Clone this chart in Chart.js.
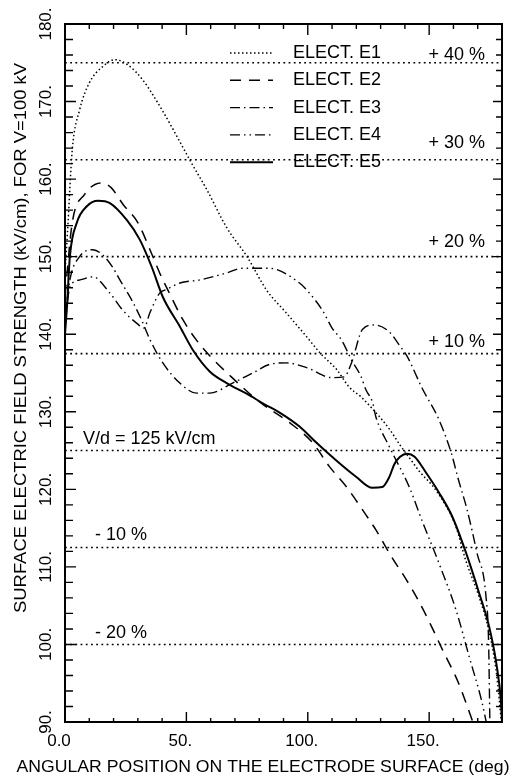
<!DOCTYPE html>
<html>
<head>
<meta charset="utf-8">
<script src="https://cdn.jsdelivr.net/npm/chart.js@4.4.1/dist/chart.umd.min.js"></script>
<style>
  html, body { margin: 0; padding: 0; background: #fff; }
</style>
</head>
<body>
<canvas id="chart" width="513" height="782"></canvas>
<script>
// angular position (deg) and field strength (kV/cm)
const xE1 = [0, 1, 3, 6, 10, 15.5, 20.5, 26, 32, 40, 47, 51.5, 58.5, 66.5, 75, 83, 91, 100, 105, 112, 117, 122, 126, 130, 134, 138, 142, 146, 153, 161, 165, 170.5, 174.5, 177.5, 179, 180];
const yE1 = [148, 153, 163.8, 168.9, 172.4, 174.5, 175.4, 174.7, 172.8, 168.9, 165, 162.4, 158.6, 153.8, 150, 145.7, 142.8, 139.5, 137.6, 135.4, 133.2, 131.9, 130.6, 129.2, 127.6, 125.7, 124, 122.3, 119.8, 115.2, 110.9, 106.2, 101.9, 96.8, 92.5, 89];

const xE2 = [0, 3, 8, 15, 19, 24, 30, 35, 39, 43, 48.5, 54, 60, 68.5, 80, 92.5, 102, 109, 116, 122, 128, 134.5, 140.5, 146, 151, 155.5, 162, 168];
const yE2 = [145, 154.4, 158, 159.5, 158.9, 156.7, 154.4, 150.9, 147.9, 145.3, 141.9, 139.3, 137.1, 134.5, 131.3, 128.6, 126, 122.9, 120.3, 117.6, 114.8, 111.3, 108.4, 105.4, 102.3, 99.3, 95.1, 90];

const xE3 = [0, 2, 6, 11.5, 15.6, 19.7, 22.6, 27.5, 31.6, 35, 40.3, 47.3, 54.2, 59.6, 69, 77.3, 84.2, 91.2, 99.5, 110, 115, 118, 122.5, 127.4, 133.6, 137.7, 141, 147, 154, 159, 162, 165.6, 169.7, 173.4, 174.5, 175];
const yE3 = [142, 147, 150, 150.9, 150.2, 148.6, 147, 144.4, 141.8, 139.3, 136.3, 133.7, 132.4, 132.4, 133.7, 135, 136.1, 136.3, 135.7, 134.4, 134.5, 136.3, 140.6, 141.2, 140.3, 138.6, 137.1, 133.1, 129, 124.8, 121.3, 117.4, 111.8, 106.2, 100, 90];

const xE4 = [0, 2, 6.2, 11.5, 18.5, 23.8, 29.6, 32.5, 35, 39, 42, 47.3, 55.5, 66.6, 73, 84, 96.6, 100.7, 106, 110, 113.8, 118, 122, 124, 126.7, 128, 133.6, 141.8, 147, 154, 161, 166.5, 171.8, 173.5];
const yE4 = [141, 146.1, 147, 147.4, 145.3, 143.1, 141.4, 140.8, 142.8, 145.3, 145.8, 146.6, 147, 147.9, 148.5, 148.5, 146.6, 145.3, 143.1, 140.8, 139.3, 136.7, 134.5, 132.8, 131.2, 129.4, 125.5, 120.3, 116, 110.5, 104.5, 98.4, 92.5, 90];

const xE5 = [0, 0.8, 2, 4.9, 9, 13.6, 18.5, 25.5, 30.8, 35.7, 40.3, 47.3, 52.6, 59.6, 66.6, 75, 82, 88.4, 96.6, 103.6, 110, 120, 126.6, 130.7, 133.6, 135.6, 138, 141, 144, 148.8, 154, 159.5, 165.2, 170.5, 174.7, 177.6, 179.6, 180];
const yE5 = [140, 143.5, 150, 154.4, 156.5, 157.2, 156.9, 154.7, 152.2, 148.7, 144.8, 141, 138, 135.2, 133.7, 132.3, 131, 129.9, 128.1, 126, 124.2, 121.6, 120.2, 120.3, 121.6, 123.2, 124.2, 124.6, 124.2, 122.1, 119.6, 116.5, 111.8, 106.7, 102.3, 97.7, 92.5, 90];

const seriesNames = ['ELECT. E1', 'ELECT. E2', 'ELECT. E3', 'ELECT. E4', 'ELECT. E5'];

// reference levels around V/d = 125 kV/cm
const refLevels = [175, 162.5, 150, 137.5, 125, 112.5, 100];
const refLabels = ['+ 40 %', '+ 30 %', '+ 20 %', '+ 10 %', 'V/d = 125 kV/cm', '- 10 %', '- 20 %'];

const xTickValues = [0, 50, 100, 150];
const xTickLabels = ['0.0', '50.', '100.', '150.'];
const yTickValues = [90, 100, 110, 120, 130, 140, 150, 160, 170, 180];
const yTickLabels = ['90.', '100.', '110.', '120.', '130.', '140.', '150.', '160.', '170.', '180.'];

const xTitle = 'ANGULAR POSITION ON THE ELECTRODE SURFACE (deg)';
const yTitle = 'SURFACE ELECTRIC FIELD STRENGTH (kV/cm), FOR V=100 kV';

const FONT = '"Liberation Sans", Arial, sans-serif';

const pts = (xs, ys) => xs.map((x, i) => ({ x, y: ys[i] }));

const curveStyles = [
  { dash: [1.5, 2.5], width: 1.5 },
  { dash: [11, 8], width: 1.5 },
  { dash: [10, 4, 1.5, 4], width: 1.4 },
  { dash: [10, 4, 1.5, 4, 1.5, 4], width: 1.4 },
  { dash: [], width: 2 }
];

const curves = [[xE1, yE1], [xE2, yE2], [xE3, yE3], [xE4, yE4], [xE5, yE5]].map(([xs, ys], i) => ({
  label: seriesNames[i],
  data: pts(xs, ys),
  borderColor: '#000',
  borderWidth: curveStyles[i].width,
  borderDash: curveStyles[i].dash,
  pointRadius: 0,
  cubicInterpolationMode: 'monotone',
  fill: false
}));

const refSets = refLevels.map((lvl, i) => ({
  label: refLabels[i],
  data: [{ x: 0, y: lvl }, { x: 180, y: lvl }],
  borderColor: '#000',
  borderWidth: 1.6,
  borderDash: [1.8, 3.4],
  pointRadius: 0,
  fill: false
}));

// frame, inward tick marks, legend, reference labels and axis titles
const decor = {
  id: 'decor',
  afterDraw(chart) {
    const { ctx, chartArea: a, scales: { x, y } } = chart;
    ctx.save();
    ctx.strokeStyle = '#000';
    ctx.fillStyle = '#000';
    ctx.setLineDash([]);

    ctx.lineWidth = 1.4;
    ctx.beginPath();
    for (let v = 92; v < 180; v += 2) {
      const py = y.getPixelForValue(v);
      const major = v % 10 === 0;
      ctx.moveTo(a.left, py); ctx.lineTo(a.left + (major ? 11 : 8), py);
      ctx.moveTo(a.right, py); ctx.lineTo(a.right - (major ? 9 : 6), py);
    }
    for (let v = 10; v < 180; v += 10) {
      const px = x.getPixelForValue(v);
      const major = v % 50 === 0;
      ctx.moveTo(px, a.bottom); ctx.lineTo(px, a.bottom - (major ? 10 : 4));
      ctx.moveTo(px, a.top); ctx.lineTo(px, a.top + (major ? 11 : 5));
    }
    ctx.stroke();

    ctx.lineWidth = 2;
    ctx.strokeRect(a.left, a.top, a.right - a.left, a.bottom - a.top);

    // legend
    ctx.font = '18px ' + FONT;
    ctx.textBaseline = 'middle';
    ctx.textAlign = 'left';
    chart.data.datasets.slice(0, 5).forEach((ds, i) => {
      const ly = a.top + 29 + i * 27.3;
      ctx.lineWidth = ds.borderWidth;
      ctx.setLineDash(ds.borderDash);
      ctx.beginPath();
      ctx.moveTo(a.left + 165, ly);
      ctx.lineTo(a.left + 208, ly);
      ctx.stroke();
      ctx.fillText(ds.label, a.left + 228, ly);
    });
    ctx.setLineDash([]);

    // reference level labels
    const gaps = [3, 12, 10, 7, 7, 8, 6];
    ctx.textBaseline = 'alphabetic';
    refLevels.forEach((lvl, i) => {
      const py = y.getPixelForValue(lvl) - gaps[i];
      if (lvl > 125) {
        ctx.textAlign = 'right';
        ctx.fillText(refLabels[i], a.right - 17, py);
      } else {
        ctx.textAlign = 'left';
        ctx.fillText(refLabels[i], a.left + (lvl === 125 ? 18 : 30), py);
      }
    });

    // axis titles, fitted to the length they take in the figure
    const fitText = (txt, cx, cy, w, rot) => {
      ctx.save();
      ctx.translate(cx, cy);
      ctx.rotate(rot);
      ctx.font = '17px ' + FONT;
      const m = ctx.measureText(txt).width;
      ctx.scale(w / m, 1);
      ctx.textAlign = 'center';
      ctx.textBaseline = 'middle';
      ctx.fillText(txt, 0, 0);
      ctx.restore();
    };
    fitText(xTitle, 263, 767, 493, 0);
    fitText(yTitle, 21, 338, 550, -Math.PI / 2);

    ctx.restore();
  }
};

new Chart(document.getElementById('chart'), {
  type: 'line',
  data: { datasets: [...curves, ...refSets] },
  options: {
    responsive: false,
    animation: false,
    devicePixelRatio: 1,
    layout: { padding: { top: 24, right: 11, left: 0, bottom: 0 } },
    plugins: { legend: { display: false }, tooltip: { enabled: false } },
    scales: {
      x: {
        type: 'linear',
        min: 0,
        max: 180,
        grid: { display: false, drawTicks: false },
        border: { display: false },
        ticks: {
          stepSize: 50,
          includeBounds: false,
          autoSkip: false,
          maxRotation: 0,
          padding: 9,
          labelOffset: -6,
          color: '#000',
          font: { size: 17, family: FONT },
          callback: (v) => {
            const k = xTickValues.indexOf(v);
            return k < 0 ? '' : xTickLabels[k];
          }
        },
        afterFit: (s) => { s.height = 60; }
      },
      y: {
        type: 'linear',
        min: 90,
        max: 180,
        grid: { display: false, drawTicks: false },
        border: { display: false },
        ticks: {
          stepSize: 10,
          autoSkip: false,
          minRotation: 90,
          maxRotation: 90,
          crossAlign: 'center',
          padding: 2,
          color: '#000',
          font: { size: 17, family: FONT },
          callback: (v) => {
            const k = yTickValues.indexOf(v);
            return k < 0 ? '' : yTickLabels[k];
          }
        },
        afterFit: (s) => { s.width = 65; }
      }
    }
  },
  plugins: [decor]
});
</script>
</body>
</html>
